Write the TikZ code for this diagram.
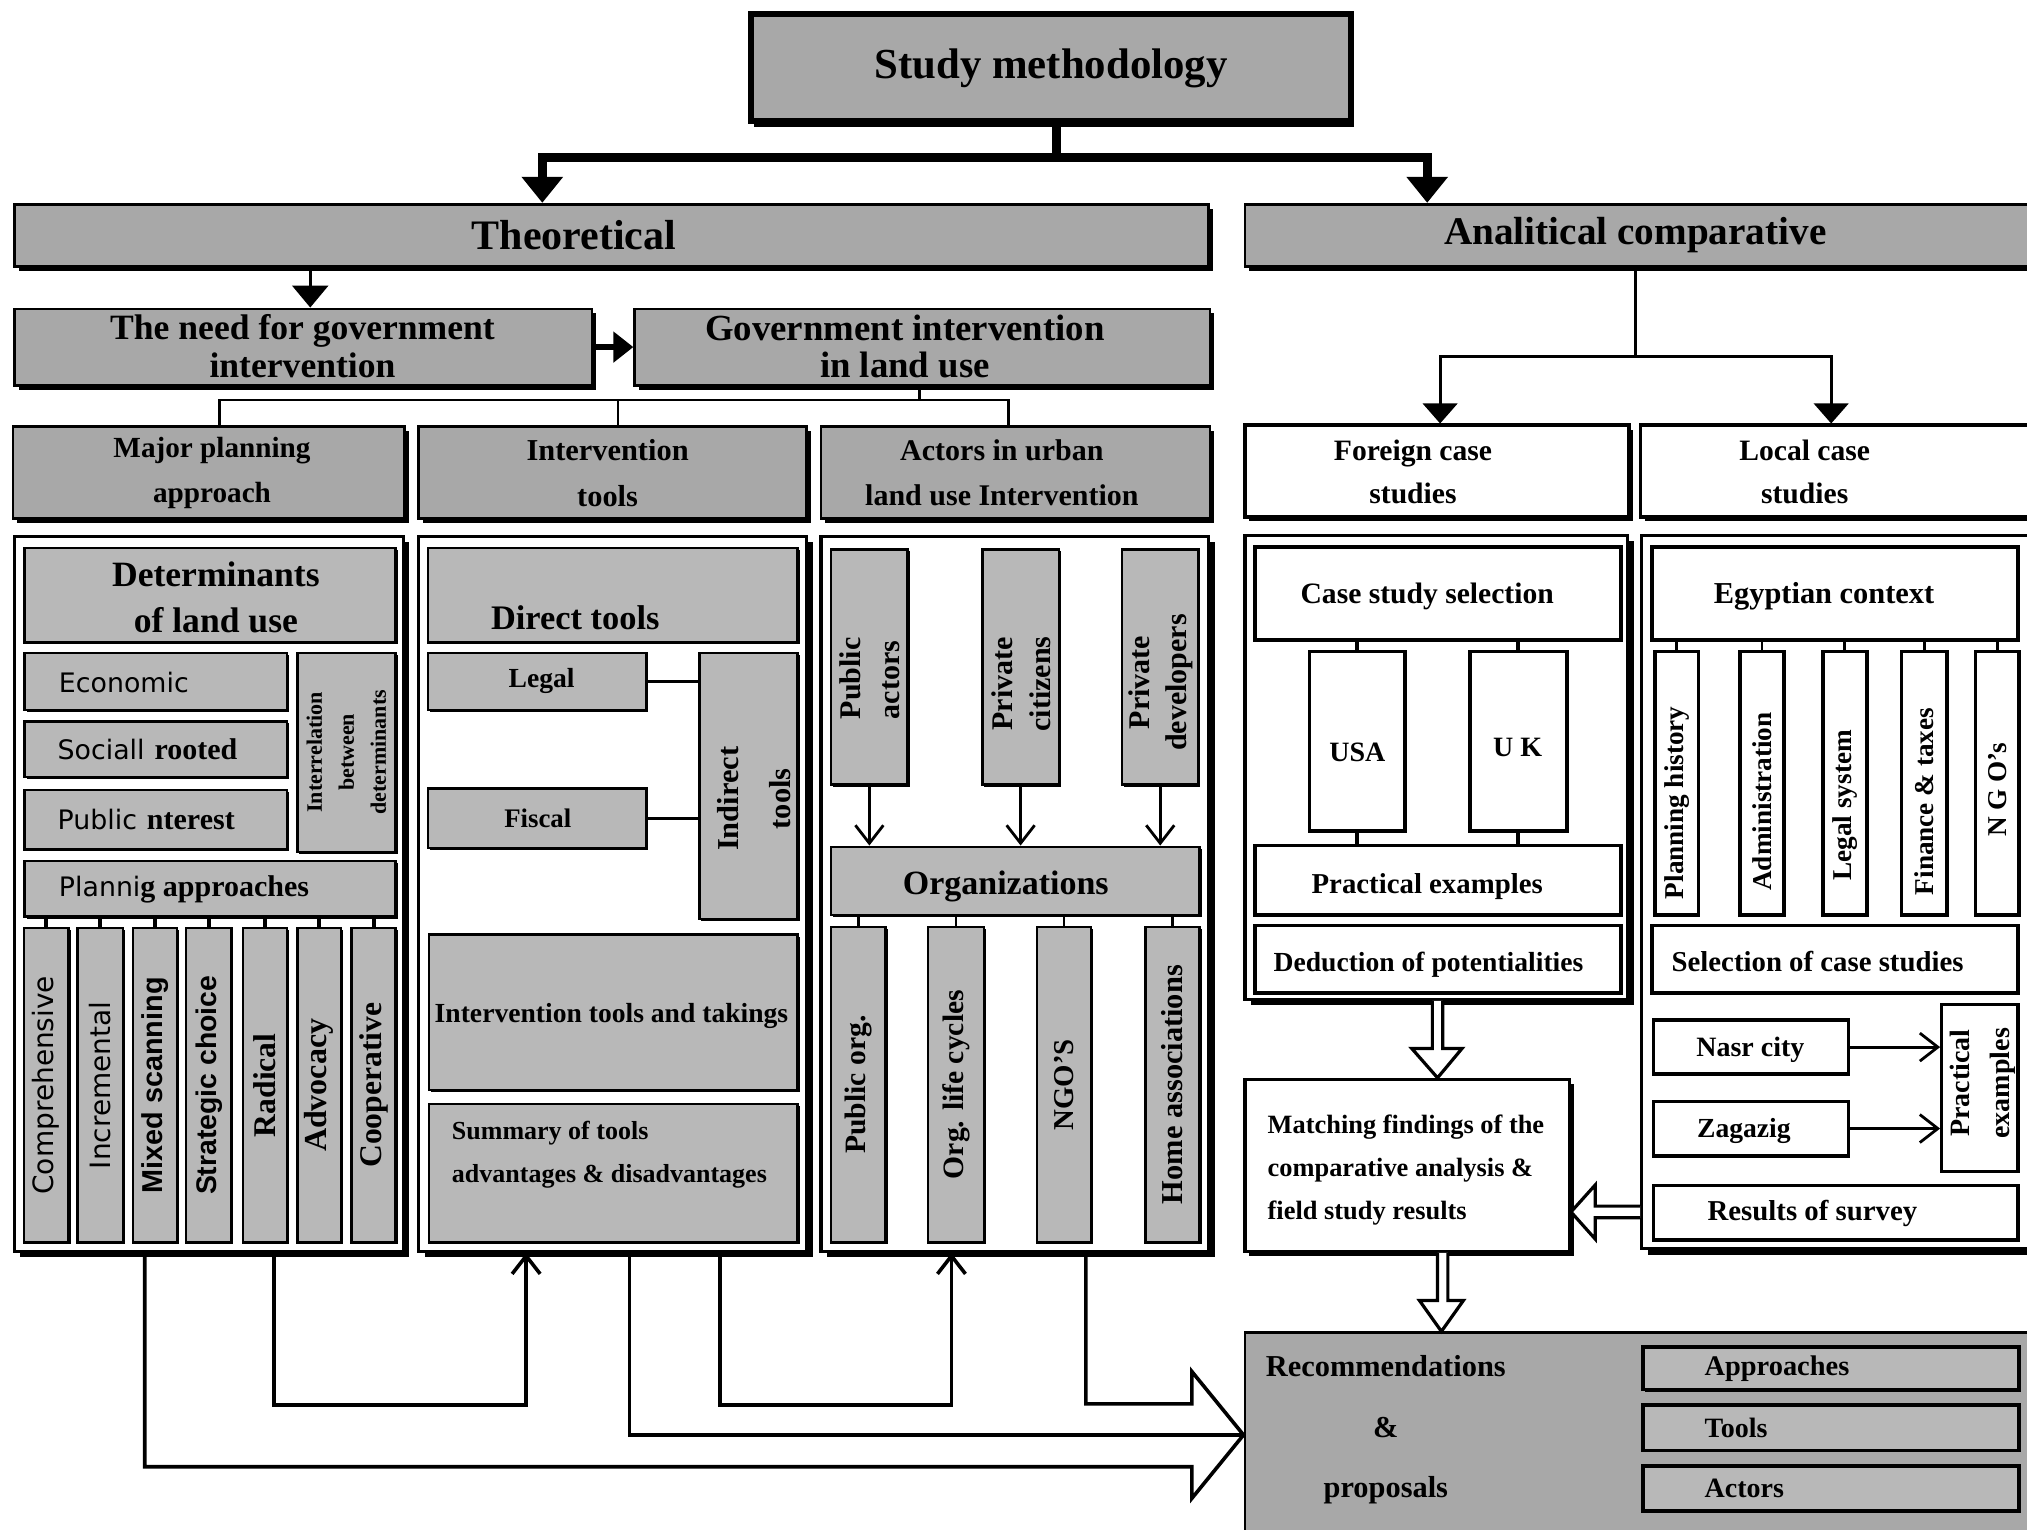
\documentclass[tikz,border=0pt]{standalone}
\usepackage{fontspec}
\setmainfont{Liberation Serif}
\newfontfamily\sansf{DejaVu Sans}
\newfontfamily\sansb{Liberation Sans}
\usetikzlibrary{arrows.meta,fit,shadows}
\definecolor{boxgray}{gray}{0.66}
\definecolor{paleg}{gray}{0.72}
\begin{document}
\begin{tikzpicture}[x=0.32318pt,y=-0.32318pt,
  every node/.style={inner sep=0pt,font=\bfseries},
  fs/.style 2 args={font=\bfseries\fontsize{#1}{#2}\selectfont},
  shd/.style={drop shadow={shadow xshift=1.1pt,shadow yshift=-1.1pt,fill=black,opacity=1}},
  shdsm/.style={drop shadow={shadow xshift=0.5pt,shadow yshift=-0.5pt,fill=black,opacity=1}},
  shdbig/.style={drop shadow={shadow xshift=0.8pt,shadow yshift=-1.3pt,fill=black,opacity=1}},
  gbox/.style={draw,line width=0.7pt,fill=boxgray},
  ibox/.style={draw,line width=0.6pt,fill=paleg,shdsm},
  wbox/.style={draw,line width=0.9pt,fill=white},
  panel/.style={draw,line width=0.8pt,fill=white,drop shadow={shadow xshift=1.5pt,shadow yshift=-1.5pt,fill=black,opacity=1}},
  rot/.style={rotate=90},
  conn/.style={line width=0.7pt},
  heavy/.style={line width=2.3pt,line join=miter},
  flow/.style={line width=0.9pt,line join=miter},
  tick/.style={line width=1pt},
  bigtip/.style={-{Triangle[width=10pt,length=6.5pt]}},
  midtip/.style={-{Triangle[width=8.6pt,length=5pt]}},
  barb/.style={-{Straight Barb[width=7pt,length=4.5pt]}},
  hol/.style={draw,line width=0.8pt,fill=white,line join=miter}]
\useasboundingbox (0,0) rectangle (1568,1183);

% ---------- top level ----------
\node[gbox,line width=1.5pt,shdbig,fit={(581,11) (1045,94)}] (sm) {};
\node[fs={10.7}{13}] (smt) at (813,53) {Study methodology};
\node[gbox,shd,fit={(11,158) (935,206)}] (theo) {};
\node[fs={10.5}{12}] (theot) at (444,182) {Theoretical};
\node[gbox,shd,fit={(963,158) (1580,206)}] (ana) {};
\node[fs={9.8}{12}] (anat) at (1265,182) {Analitical comparative};

\node[gbox,shd,fit={(11,239) (458,298)}] (need) {};
\node[align=center,fs={8.9}{9.4}] (needt) at (234,268) {The need for government\\intervention};
\node[gbox,shd,fit={(491,239) (936,298)}] (gov) {};
\node[align=center,fs={9.2}{9.4}] (govt) at (700,268) {Government intervention\\in land use};

% ---------- section headers ----------
\node[gbox,shd,fit={(10,330) (313,401)}] (h1) {};
\node[align=center,fs={7.3}{11.3}] (h1t) at (164,366) {Major planning\\approach};
\node[gbox,shd,fit={(324,330) (624,401)}] (h2) {};
\node[align=center,fs={7.6}{11.3}] (h2t) at (470,366) {Intervention\\tools};
\node[gbox,shd,fit={(635,330) (936,401)}] (h3) {};
\node[align=center,fs={7.5}{11.3}] (h3t) at (775,366) {Actors in urban\\land use Intervention};
\node[wbox,shd,fit={(963,329) (1260,400)}] (fh) {};
\node[align=center,fs={7.4}{10.7}] (fht) at (1093,365) {Foreign case\\studies};
\node[wbox,shd,fit={(1269,329) (1580,400)}] (lh) {};
\node[align=center,fs={7.4}{10.7}] (lht) at (1396,365) {Local case\\studies};

% ---------- panels ----------
\node[panel,fit={(11,415) (312,968)}] (p1) {};
\node[panel,fit={(324,415) (624,968)}] (p2) {};
\node[panel,fit={(635,415) (935,968)}] (p3) {};
\node[panel,fit={(963,414) (1259,773)}] (fp) {};
\node[panel,fit={(1270,414) (1580,966)}] (lp) {};

% ---------- planning approach panel ----------
\node[ibox,fit={(19,424) (306,497)}] (det) {};
\node[align=center,fs={8.9}{11.6}] (dett) at (167,462) {Determinants\\of land use};
\node[ibox,fit={(19,505) (222,549)}] (eco) {};
\node[anchor=west] (ecot) at (45,528) {\sansf\mdseries\fontsize{6.7}{8}\selectfont Economic};
\node[ibox,fit={(19,558) (222,601)}] (soc) {};
\node[anchor=west] (soct) at (44,580) {{\sansf\mdseries\fontsize{6.7}{8}\selectfont Sociall} \fontsize{7.5}{8}\selectfont rooted};
\node[ibox,fit={(19,611) (222,657)}] (pub) {};
\node[anchor=west] (pubt) at (44,634) {{\sansf\mdseries\fontsize{6.7}{8}\selectfont Public} \fontsize{7.5}{8}\selectfont nterest};
\node[ibox,fit={(230,505) (306,659)}] (inter) {};
\node[rot,align=center,fs={5.5}{8}] (intert) at (inter) {Interrelation\\between\\determinants};
\node[ibox,fit={(19,666) (306,709)}] (plan) {};
\node[anchor=west] (plant) at (45,688) {{\sansf\mdseries\fontsize{6.7}{8}\selectfont Planni}\fontsize{7.5}{8}\selectfont g approaches};

\node[ibox,fit={(18.5,718) (53,961)}] (s1) {};
\node[ibox,fit={(60,718) (95,961)}] (s2) {};
\node[ibox,fit={(103,718) (137,961)}] (s3) {};
\node[ibox,fit={(144,718) (179,961)}] (s4) {};
\node[ibox,fit={(188,718) (222,961)}] (s5) {};
\node[ibox,fit={(230,718) (264,961)}] (s6) {};
\node[ibox,fit={(272,718) (306,961)}] (s7) {};
\node[rot] (s1t) at (s1) {\sansf\mdseries\fontsize{7}{8}\selectfont Comprehensive};
\node[rot] (s2t) at (s2) {\sansf\mdseries\fontsize{7}{8}\selectfont Incremental};
\node[rot] (s3t) at (s3) {\sansb\fontsize{7.2}{8}\selectfont Mixed scanning};
\node[rot] (s4t) at (s4) {\sansb\fontsize{7.1}{8}\selectfont Strategic choice};
\node[rot,fs={7.9}{8}] (s5t) at (s5) {Radical};
\node[rot,fs={8}{8}] (s6t) at (s6) {Advocacy};
\node[rot,fs={7.9}{8}] (s7t) at (s7) {Cooperative};
\foreach \n in {s1,s2,s3,s4,s5,s6,s7}
  \draw[tick] (\n.north) -- (\n.north |- plan.south);

% ---------- intervention tools panel ----------
\node[ibox,fit={(331,424) (617,497)}] (dir) {};
\node[fs={8.6}{10}] (dirt) at (445,478) {Direct tools};
\node[ibox,fit={(331,505) (500,549)}] (legal) {};
\node[fs={6.9}{8}] (legalt) at (419,527) {Legal};
\node[ibox,fit={(331,610) (500,656)}] (fisc) {};
\node[fs={6.7}{8}] (fisct) at (416,633) {Fiscal};
\node[ibox,fit={(541,505) (617,711)}] (ind) {};
\node[rot,align=center,fs={7.6}{13}] (indt) at (583,618) {Indirect\\tools};
\node[ibox,fit={(332,723) (617,843)}] (itt) {};
\node[fs={6.9}{8}] (ittt) at (473,786) {Intervention tools and takings};
\node[ibox,fit={(332,854) (617,961)}] (summ) {};
\node[anchor=west,align=left,fs={6.5}{10.7}] (summt) at (349,893) {Summary of tools\\advantages \& disadvantages};
\draw[conn] (legal.east) -- (legal.east -| ind.west);
\draw[conn] (fisc.east) -- (fisc.east -| ind.west);

% ---------- actors panel ----------
\node[ibox,fit={(643,425) (702,607)}] (pa) {};
\node[rot,anchor=west,align=left,fs={7.5}{9.7}] (pat) at (673,557) {Public\\actors};
\node[ibox,fit={(760,425) (819,607)}] (pc) {};
\node[rot,align=center,fs={7.5}{9.4}] (pct) at (790,529) {Private\\citizens};
\node[ibox,fit={(868,425) (927,607)}] (pd) {};
\node[rot,align=center,fs={7.5}{9.2}] (pdt) at (898,528) {Private\\developers};
\node[ibox,fit={(643,655) (928,708)}] (org) {};
\node[fs={8.5}{10}] (orgt) at (778,686) {Organizations};
\node[ibox,fit={(643,717) (685,961)}] (o1) {};
\node[ibox,fit={(718,717) (761,961)}] (o2) {};
\node[ibox,fit={(802,717) (844,961)}] (o3) {};
\node[ibox,fit={(886,717) (928,961)}] (o4) {};
\node[rot,fs={7.4}{8}] (o1t) at (o1) {Public org.};
\node[rot,fs={7.4}{8}] (o2t) at (o2) {Org. life cycles};
\node[rot,fs={7.2}{8}] (o3t) at (o3) {NGO'S};
\node[rot,fs={7.6}{8}] (o4t) at (o4) {Home associations};
\foreach \n in {pa,pc,pd}
  \draw[conn,barb] (\n.south) -- (\n.south |- org.north);
\foreach \n in {o1,o2,o3,o4}
  \draw[conn] (\n.north) -- (\n.north |- org.south);

% ---------- foreign case studies ----------
\node[wbox,fit={(971,423) (1254,495)}] (css) {};
\node[fs={7.4}{9}] (csst) at (1104,461) {Case study selection};
\node[wbox,fit={(1013,504) (1087,643)}] (usa) {};
\node[fs={7}{8}] (usat) at (1050,582) {USA};
\node[wbox,fit={(1137,504) (1212,643)}] (uk) {};
\node[fs={7}{8}] (ukt) at (1174,578) {U K};
\node[wbox,fit={(971,654) (1254,708)}] (pe) {};
\node[fs={7.2}{9}] (pet) at (1104,686) {Practical examples};
\node[wbox,fit={(971,716) (1254,768)}] (ded) {};
\node[fs={6.9}{9}] (dedt) at (1105,746) {Deduction of potentialities};
\foreach \n in {usa,uk}{
  \draw[tick] (\n.north) -- (\n.north |- css.south);
  \draw[tick] (\n.south) -- (\n.south |- pe.north);}

% ---------- local case studies ----------
\node[wbox,fit={(1278,423) (1561,495)}] (egy) {};
\node[fs={7.6}{9}] (egyt) at (1411,461) {Egyptian context};
\node[wbox,fit={(1280,504) (1314,708)}] (v1) {};
\node[wbox,fit={(1346,504) (1380,708)}] (v2) {};
\node[wbox,fit={(1410,504) (1444,708)}] (v3) {};
\node[wbox,fit={(1471,504) (1506,708)}] (v4) {};
\node[wbox,fit={(1528,504) (1562,708)}] (v5) {};
\node[rot,fs={6.8}{8}] (v1t) at (1297,621) {Planning history};
\node[rot,fs={6.8}{8}] (v2t) at (1363,620) {Administration};
\node[rot,fs={6.8}{8}] (v3t) at (1427,623) {Legal system};
\node[rot,fs={6.8}{8}] (v4t) at (1488.5,620) {Finance \& taxes};
\node[rot,fs={6.8}{8}] (v5t) at (1545,611) {N G O's};
\foreach \n in {v1,v2,v3,v4,v5}
  \draw[conn] (\n.north) -- (\n.north |- egy.south);
\node[wbox,fit={(1278,716) (1561,768)}] (sel) {};
\node[fs={7.2}{9}] (selt) at (1406,744) {Selection of case studies};
\node[wbox,fit={(1279,789) (1430,831)}] (nasr) {};
\node[fs={7}{9}] (nasrt) at (1354,812) {Nasr city};
\node[wbox,fit={(1279,852) (1430,894)}] (zag) {};
\node[fs={6.9}{9}] (zagt) at (1349,875) {Zagazig};
\node[wbox,line width=0.8pt,fit={(1502,777) (1561,906)}] (pex) {};
\node[rot,align=center,fs={7}{10}] (pext) at (1534,838) {Practical\\examples};
\node[wbox,fit={(1279,917) (1561,959)}] (res) {};
\node[fs={7.2}{9}] (rest) at (1402,939) {Results of survey};
\draw[conn,barb] (nasr.east) -- (nasr.east -| pex.west);
\draw[conn,barb] (zag.east) -- (zag.east -| pex.west);

% ---------- synthesis ----------
\node[wbox,line width=0.8pt,shd,fit={(963,835) (1214,968)}] (match) {};
\node[anchor=west,align=left,fs={6.6}{10.7}] (matcht) at (980,905)
  {Matching findings of the\\comparative analysis \&\\field study results};
\node[gbox,fit={(963,1031) (1580,1195)}] (rec) {};
\node[align=center,fs={7.6}{15.2}] (rect) at (1072,1106) {Recommendations\\\&\\proposals};
\node[ibox,line width=0.9pt,fit={(1271,1042) (1562,1075)}] (app) {};
\node[ibox,line width=0.9pt,fit={(1271,1087) (1562,1122)}] (tls) {};
\node[ibox,line width=0.9pt,fit={(1271,1134) (1562,1169)}] (act) {};
\node[anchor=west,fs={7.1}{8}] (appt) at (1318,1058.5) {Approaches};
\node[anchor=west,fs={7}{8}] (tlst) at (1318,1104.5) {Tools};
\node[anchor=west,fs={7}{8}] (actt) at (1318,1151.5) {Actors};

% ---------- connectors: top ----------
\coordinate (jtop) at (817,122);
\draw[heavy] (sm.south -| jtop) -- (jtop);
\draw[heavy,bigtip] (jtop) -| (theo.north -| 419.5,0);
\draw[heavy,bigtip] (jtop) -| (ana.north -| 1104,0);
\draw[conn,-{Triangle[width=9pt,length=5.5pt]}] (theo.south -| 240,0) -- (need.north -| 240,0);
\draw[line width=1.3pt,-{Triangle[width=7.5pt,length=5pt]}] (need.east) -- (need.east -| gov.west);

\coordinate (jh) at (711,309.5);
\draw[conn] (gov.south -| jh) -- (jh);
\draw[conn] (h1.north -| 170,0) |- (jh) -| (h3.north -| 780,0);
\draw[conn] (h2.north -| 478,0) -- (478,309.5);

\coordinate (ja) at (1265,276);
\draw[conn] (ana.south -| ja) -- (ja);
\draw[conn,midtip] (ja) -| (fh.north -| 1114,0);
\draw[conn,midtip] (ja) -| (lh.north -| 1416.5,0);

% ---------- connectors: hollow arrows ----------
\draw[hol] (fp.south -| 1108,0) -- (1108,811) -- (1092,811) -- (match.north -| 1112,0)
  -- (1131,811) -- (1116,811) -- (fp.south -| 1116,0);
\draw[hol] (lp.west |- 0,933) -- (1234,933) -- (1234,916.6) -- (match.east |- 0,937.5)
  -- (1234,958.5) -- (1234,942) -- (lp.west |- 0,942);
\draw[hol] (match.south -| 1112,0) -- (1112,1006) -- (1098,1006) -- (rec.north -| 1115,0)
  -- (1132,1006) -- (1120,1006) -- (match.south -| 1120,0);

% ---------- connectors: theoretical panels to recommendations ----------
\draw[flow] (p3.south -| 840,0) -- (840,1086) -- (922,1086) -- (922,1061)
  -- (rec.west |- 0,1110) -- (922,1159) -- (922,1134.6) -- (112,1134.6) -- (p1.south -| 112,0);
\draw[flow] (p2.south -| 487,0) -- (487,1110) -- (rec.west |- 0,1110);
\draw[flow,barb] (p1.south -| 212,0) -- (212,1087) -- (407,1087) -- (p2.south -| 407,0);
\draw[flow,barb] (p2.south -| 557,0) -- (557,1087) -- (736,1087) -- (p3.south -| 736,0);
\end{tikzpicture}
\end{document}
